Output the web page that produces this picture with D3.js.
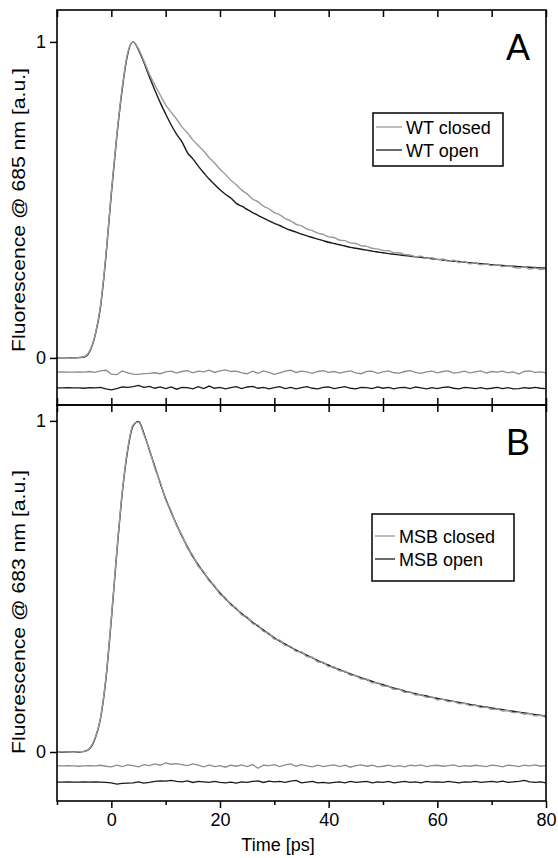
<!DOCTYPE html>
<html><head><meta charset="utf-8">
<script src="https://cdn.jsdelivr.net/npm/d3@7"></script>
<style>body{margin:0;background:#fff}svg{display:block}text{font-family:"Liberation Sans",Arial,Helvetica,sans-serif}</style>
</head><body><svg id="c" width="558" height="858"></svg>
<script>
const times = [-10,-9,-8,-7,-6,-5,-4,-3,-2,-1,0,1,2,3,4,5,6,7,8,9,10,11,12,13,14,15,16,17,18,19,20,21,22,23,24,25,26,27,28,29,30,31,32,33,34,35,36,37,38,39,40,41,42,43,44,45,46,47,48,49,50,51,52,53,54,55,56,57,58,59,60,61,62,63,64,65,66,67,68,69,70,71,72,73,74,75,76,77,78,79,80];
const xTicksMajor = [0,20,40,60,80];
const xTicksAll = [-10,0,10,20,30,40,50,60,70,80];
const yTicks = [0,1];
const panelLetters = ["A","B"];
const yLabels = ["Fluorescence @ 685 nm [a.u.]","Fluorescence @ 683 nm [a.u.]"];
const legendA = ["WT closed","WT open"];
const legendB = ["MSB closed","MSB open"];
const residualOffsetsA = [-0.045,-0.095];
const residualOffsetsB = [-0.042,-0.091];

const wtOpen = [0,0,0.001,0,0.001,0.003,0.02,0.07,0.16,0.32,
0.52,0.70,0.85,0.96,1.0,0.975,0.935,0.89,0.848,0.808,
0.772,0.738,0.708,0.684,0.650,0.630,0.607,0.586,0.566,0.549,
0.532,0.518,0.506,0.489,0.480,0.470,0.460,0.451,0.442,0.434,
0.426,0.419,0.411,0.404,0.398,0.392,0.386,0.381,0.376,0.371,
0.366,0.362,0.358,0.354,0.350,0.347,0.344,0.341,0.338,0.335,
0.333,0.330,0.328,0.326,0.324,0.322,0.320,0.318,0.316,0.314,
0.312,0.310,0.308,0.306,0.305,0.303,0.301,0.300,0.298,0.297,
0.295,0.294,0.293,0.291,0.290,0.289,0.288,0.287,0.286,0.285,
0.284];
const wtClosed = [0,0.001,0,0,0.001,0.004,0.022,0.072,0.165,0.325,
0.525,0.705,0.855,0.965,1.0,0.978,0.94,0.898,0.864,0.832,
0.801,0.778,0.756,0.731,0.712,0.690,0.672,0.655,0.634,0.617,
0.597,0.581,0.562,0.548,0.531,0.519,0.503,0.494,0.480,0.472,
0.460,0.453,0.441,0.434,0.423,0.418,0.408,0.403,0.395,0.391,
0.383,0.381,0.373,0.371,0.364,0.362,0.355,0.353,0.347,0.345,
0.340,0.339,0.333,0.333,0.327,0.326,0.320,0.322,0.315,0.317,
0.311,0.313,0.306,0.309,0.302,0.305,0.298,0.301,0.295,0.297,
0.292,0.295,0.289,0.291,0.287,0.284,0.289,0.281,0.285,0.280,
0.282];
const msbOpen = [0,0,0,0.001,0,0.002,0.01,0.04,0.10,0.22,
0.40,0.60,0.78,0.91,0.985,0.998,0.962,0.912,0.862,0.812,
0.765,0.725,0.687,0.652,0.62,0.59,0.565,0.542,0.52,0.5,
0.48,0.463,0.447,0.432,0.418,0.405,0.392,0.38,0.368,0.356,
0.345,0.335,0.326,0.317,0.308,0.3,0.292,0.284,0.276,0.269,
0.262,0.255,0.249,0.242,0.236,0.23,0.224,0.219,0.213,0.208,
0.203,0.198,0.193,0.189,0.184,0.18,0.176,0.172,0.169,0.165,
0.162,0.159,0.156,0.153,0.15,0.147,0.144,0.141,0.138,0.136,
0.133,0.13,0.128,0.125,0.123,0.12,0.118,0.116,0.113,0.111,
0.108];
const msbClosed = [0,0.001,0,0,0.001,0.001,0.011,0.042,0.102,0.224,
0.405,0.605,0.785,0.915,0.988,0.997,0.958,0.915,0.858,0.815,
0.762,0.728,0.684,0.655,0.616,0.594,0.561,0.545,0.516,0.503,
0.476,0.466,0.443,0.435,0.414,0.408,0.388,0.383,0.364,0.359,
0.341,0.338,0.322,0.319,0.304,0.302,0.288,0.286,0.272,0.271,
0.258,0.257,0.245,0.244,0.232,0.231,0.220,0.220,0.209,0.209,
0.199,0.199,0.189,0.190,0.180,0.181,0.172,0.173,0.165,0.166,
0.158,0.159,0.152,0.153,0.146,0.147,0.140,0.141,0.134,0.136,
0.129,0.130,0.124,0.125,0.119,0.120,0.114,0.116,0.109,0.111,
0.104];
const resWtClosed = [0,0.001,0,0,0.001,0,0.002,-0.001,0.004,0.006,
-0.006,-0.008,0.004,-0.002,-0.006,-0.007,-0.005,-0.004,-0.002,-0.005,
0.001,0.003,-0.003,0.002,0.005,-0.002,0.003,0.001,0.006,-0.001,
0.004,0.007,0.002,0.003,-0.002,-0.005,0.003,-0.004,0.004,-0.001,
-0.007,-0.002,0.003,0.006,-0.001,0.003,0.001,-0.004,0.002,0.005,
-0.001,0.002,-0.003,0.001,0.004,-0.002,-0.005,0.002,0.003,-0.004,
0.001,0.004,-0.002,-0.003,0.002,0.005,-0.001,-0.004,0.001,0.003,
-0.002,0.002,0.004,-0.003,-0.001,0.003,-0.002,0.001,0.004,-0.003,
0.002,0,0.003,-0.002,0.001,-0.006,0.002,0.004,-0.001,0.001,
-0.002];
const resWtOpen = [0,0,0.001,0,0,-0.001,0.001,0,0.002,-0.003,
-0.006,-0.002,0.003,0.002,0.004,0.008,0.002,0.005,-0.001,0.003,
-0.002,0.003,-0.004,0.002,0.001,-0.003,0.004,-0.002,0.006,-0.001,
0.002,-0.003,0.001,0.004,-0.002,0.003,0.005,-0.001,0.002,-0.003,
0.001,0.004,-0.002,0.002,-0.003,0.001,0.004,-0.001,-0.003,0.002,
0.003,-0.002,0.001,0.004,-0.001,-0.003,0.002,0.001,-0.002,0.003,
-0.001,0.002,-0.003,0.001,0.002,-0.002,0.003,0,-0.003,0.001,
-0.002,0.002,0.003,-0.001,-0.003,0.002,0,-0.002,0.001,-0.003,
-0.001,0.002,-0.002,0.001,-0.003,-0.002,0.001,-0.001,0.002,-0.001,
-0.002];
const resMsbClosed = [0,0,0.001,0,-0.001,0,0.001,0,0.002,-0.001,
-0.003,0.002,-0.002,0.003,0.001,-0.003,0.004,0.001,0.006,0.002,
0.009,0.005,0.007,0.004,0.001,0.006,0.002,-0.003,0.003,-0.002,
0.001,-0.004,0.002,-0.001,0.003,-0.002,0.004,-0.007,0.002,0.001,
0.004,-0.002,0.003,0.006,-0.001,0.004,0,-0.003,0.002,-0.002,
0.001,0.003,-0.002,0.002,-0.004,0.001,0.003,-0.001,0.002,-0.003,
-0.001,0.002,-0.002,0.001,-0.003,0.002,0,0.003,-0.002,0.001,
0.002,-0.001,0.001,0.003,-0.002,0.001,-0.001,0.002,0,-0.002,
0.002,0.001,-0.003,0.002,0.001,-0.002,0.002,0,0.003,-0.001,
0.001];
const resMsbOpen = [0,0,0.001,0,0,0.001,0,0.001,0,-0.001,
-0.002,-0.006,-0.004,-0.003,-0.002,0.001,-0.003,-0.001,0.002,0.004,
0.003,0.005,0.002,0.001,0.004,-0.001,0.002,0.001,-0.001,0.002,
-0.001,-0.002,0,-0.003,0.001,-0.001,0.002,0.004,-0.001,0.003,
0.001,0.002,-0.001,0.003,0.005,-0.002,0,0.002,-0.002,-0.001,
-0.003,-0.001,0.001,-0.002,0.002,-0.001,0.001,0.002,-0.002,0.001,
-0.001,0.002,-0.002,0,0.002,-0.001,0.001,-0.002,0.002,0,
0.001,-0.001,0.002,0,-0.002,0.001,0,0.002,-0.001,0.001,
0.002,0,0.003,-0.001,0.001,0.002,0.005,0.001,-0.001,0.001,
-0.002];

const GRAY = "#9a9a9a", BLACK = "#1a1a1a";
const FONT = "Liberation Sans, Arial, sans-serif";
const svg = d3.select("#c");
const L = 57, R = 546;
const x = d3.scaleLinear().domain([-10,80]).range([L,R]);

const panels = [
  {top:10, bottom:405, dom:[-0.149,1.101], closed:wtClosed, open:wtOpen, rc:resWtClosed, ro:resWtOpen, off:residualOffsetsA,
   letter:panelLetters[0], ylab:yLabels[0], leg:legendA, labelCy:210,
   legBox:[373,113,503,166], legText:406, legRows:[127,150]},
  {top:405, bottom:801, dom:[-0.148,1.048], closed:msbClosed, open:msbOpen, rc:resMsbClosed, ro:resMsbOpen, off:residualOffsetsB,
   letter:panelLetters[1], ylab:yLabels[1], leg:legendB, labelCy:612,
   legBox:[372,514,514,581], legText:399, legRows:[536,559]}
];

panels.forEach((p,pi)=>{
  const y = d3.scaleLinear().domain(p.dom).range([p.bottom,p.top]);
  const g = svg.append("g");
  const line = arr => d3.line().curve(d3.curveMonotoneX).x((d,i)=>x(times[i])).y(d=>y(d))(arr);
  const lineOff = (arr,off) => d3.line().x((d,i)=>x(times[i])).y(d=>y(d+off))(arr);
  g.append("path").attr("d",lineOff(p.rc,p.off[0])).attr("fill","none").attr("stroke","#8c8c8c").attr("stroke-width",1.3);
  g.append("path").attr("d",lineOff(p.ro,p.off[1])).attr("fill","none").attr("stroke",BLACK).attr("stroke-width",1.3);
  g.append("path").attr("d",line(p.open)).attr("fill","none").attr("stroke",BLACK).attr("stroke-width",1.4);
  g.append("path").attr("d",line(p.closed)).attr("fill","none").attr("stroke",GRAY).attr("stroke-width",1.4);

  const ya = g.append("g").attr("transform",`translate(${L},0)`)
    .call(d3.axisLeft(y).tickValues(yTicks).tickFormat(d3.format("d")).tickSize(7).tickPadding(4));
  ya.select(".domain").remove();
  ya.selectAll("line").attr("stroke","#000").attr("stroke-width",1.5);
  ya.selectAll("text").attr("font-size",18).attr("fill","#000").style("font-family",FONT);

  const ta = g.append("g").attr("transform",`translate(0,${p.top})`)
    .call(d3.axisBottom(x).tickValues(xTicksAll).tickSize(7).tickFormat(""));
  ta.select(".domain").remove();
  ta.selectAll("line").attr("stroke","#000").attr("stroke-width",1.5);
  if(pi===0){
    const ba = g.append("g").attr("transform",`translate(0,${p.bottom})`)
      .call(d3.axisTop(x).tickValues(xTicksAll).tickSize(7).tickFormat(""));
    ba.select(".domain").remove();
    ba.selectAll("line").attr("stroke","#000").attr("stroke-width",1.5);
  } else {
    const bMaj = g.append("g").attr("transform",`translate(0,${p.bottom})`)
      .call(d3.axisBottom(x).tickValues(xTicksMajor).tickSize(7).tickPadding(5).tickFormat(d3.format("d")));
    bMaj.select(".domain").remove();
    bMaj.selectAll("line").attr("stroke","#000").attr("stroke-width",1.5);
    bMaj.selectAll("text").attr("font-size",18).attr("fill","#000").style("font-family",FONT);
    const bMin = g.append("g").attr("transform",`translate(0,${p.bottom})`)
      .call(d3.axisBottom(x).tickValues(xTicksAll.filter(v=>!xTicksMajor.includes(v))).tickSize(4).tickFormat(""));
    bMin.select(".domain").remove();
    bMin.selectAll("line").attr("stroke","#000").attr("stroke-width",1.5);
  }
  g.append("rect").attr("x",L).attr("y",p.top).attr("width",R-L).attr("height",p.bottom-p.top)
    .attr("fill","none").attr("stroke","#000").attr("stroke-width",1.6);

  g.append("text").attr("x",530).attr("y",p.top+50).attr("text-anchor","end")
    .attr("font-size",36).text(p.letter);

  g.append("text").attr("transform",`translate(25,${p.labelCy}) rotate(-90)`).attr("text-anchor","middle")
    .attr("font-size",18).attr("textLength",284).attr("lengthAdjust","spacingAndGlyphs").text(p.ylab);

  const [bx0,by0,bx1,by1] = p.legBox;
  g.append("rect").attr("x",bx0).attr("y",by0).attr("width",bx1-bx0).attr("height",by1-by0)
    .attr("fill","#fff").attr("stroke","#111").attr("stroke-width",1.6);
  [GRAY,BLACK].forEach((c,i)=>{
    g.append("line").attr("x1",bx0+3).attr("x2",p.legText-4).attr("y1",p.legRows[i]).attr("y2",p.legRows[i])
      .attr("stroke",c).attr("stroke-width",1.3);
    g.append("text").attr("x",p.legText).attr("y",p.legRows[i]+7).attr("font-size",18).text(p.leg[i]);
  });
});

svg.append("text").attr("x",278).attr("y",851).attr("text-anchor","middle").attr("font-size",18).text("Time [ps]");
</script></body></html>
